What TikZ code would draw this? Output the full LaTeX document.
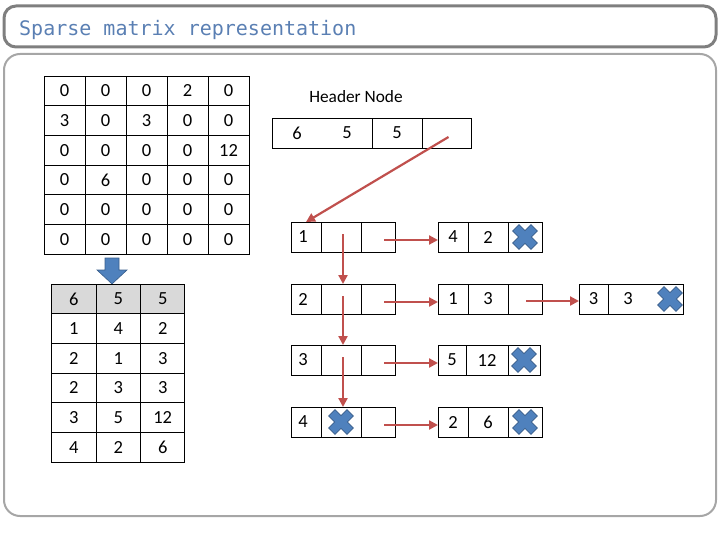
\documentclass[tikz,border=0pt]{standalone}
\usepackage{fontspec}
\setmainfont{Carlito}
\newfontfamily\titlefont{DejaVu Sans Mono}
\usetikzlibrary{arrows.meta}
\definecolor{titleblue}{HTML}{5A7FB3}
\definecolor{redarr}{HTML}{C0504D}
\definecolor{xblue}{HTML}{4F81BD}
\definecolor{xborder}{HTML}{385D8A}
\definecolor{hdrgray}{HTML}{D9D9D9}
\definecolor{framedark}{HTML}{7F7F7F}
\definecolor{framelight}{HTML}{A6A6A6}
\begin{document}
\begin{tikzpicture}[x=1pt,y=-1pt,
  cell/.style={draw=black,line width=0.9pt,minimum height=29.67pt,inner sep=0pt,outer sep=0pt,font=\fontsize{18.5}{20}\selectfont,anchor=center},
  lcell/.style={cell,minimum height=30pt},
  numtxt/.style={inner sep=0pt,font=\fontsize{18.5}{20}\selectfont,anchor=center},
  redarrow/.style={draw=redarr,line width=2.2pt,-{Triangle[length=9pt,width=9pt]}},
  xcross/.pic={\filldraw[fill=xblue,draw=xborder,line width=0.6pt,rotate=45]
     (4.5,4.5) -- (13,4.5) -- (13,-4.5) -- (4.5,-4.5) -- (4.5,-13) -- (-4.5,-13) -- (-4.5,-4.5)
     -- (-13,-4.5) -- (-13,4.5) -- (-4.5,4.5) -- (-4.5,13) -- (4.5,13) -- cycle;}
]
\useasboundingbox (0,0) rectangle (720,540);
% frames
\draw[rounded corners=12pt,line width=3pt,draw=framedark] (4,6) rectangle (716,47);
\draw[rounded corners=16pt,line width=2pt,draw=framelight] (4,54) rectangle (716,516);
\node[anchor=west,inner sep=0pt,text=titleblue,font=\titlefont\fontsize{20}{24}\selectfont] (title) at (19,30) {Sparse matrix representation};

% dense matrix
\foreach \row [count=\r] in {{0,0,0,2,0},{3,0,3,0,0},{0,0,0,0,12},{0,6,0,0,0},{0,0,0,0,0},{0,0,0,0,0}} {
  \foreach \v [count=\c] in \row {
    \node[cell,minimum width=41pt] (m-\r-\c) at ({44+41*(\c-0.5)},{76+29.67*(\r-0.5)}) {\v};
  }
}

% blue block arrow
\filldraw[fill=xblue,draw=xborder,line width=0.6pt] (105,258) -- (119,258) -- (119,270) -- (127,270) -- (112,284) -- (97,270) -- (105,270) -- cycle;

% triplet table
\foreach \row [count=\r] in {{6,5,5},{1,4,2},{2,1,3},{2,3,3},{3,5,12},{4,2,6}} {
  \foreach \v [count=\c] in \row {
    \ifnum\r=1
      \node[cell,fill=hdrgray,minimum width=44.4pt] (t-\r-\c) at ({51.7+44.4*(\c-0.5)},{284+29.67*(\r-0.5)}) {\v};
    \else
      \node[cell,minimum width=44.4pt] (t-\r-\c) at ({51.7+44.4*(\c-0.5)},{284+29.67*(\r-0.5)}) {\v};
    \fi
  }
}

% header node
\node[inner sep=0pt,font=\fontsize{17.3}{20}\selectfont] (hlabel) at (356,97) {Header Node};
\node[lcell,minimum width=100pt] (h1) at (322,133) {};
\node[lcell,minimum width=50pt] (h2) at (397,133) {5};
\node[lcell,minimum width=49pt] (h3) at (446.5,133) {};
\node[numtxt] (h1a) at (297,133) {6};
\node[numtxt] (h1b) at (347,133) {5};

% row list (left column)
\foreach \n/\y in {1/237,2/299,3/360,4/422} {
  \node[lcell,minimum width=30pt] (r\n a) at (306,\y) {};
  \node[numtxt] (r\n t) at (303,\y) {\n};
  \node[lcell,minimum width=40pt] (r\n b) at (341,\y) {};
  \node[lcell,minimum width=34pt] (r\n c) at (378,\y) {};
}
\pic (xr4) at (r4b.center) {xcross};

% element nodes
\node[lcell,minimum width=30pt] (a1) at (453,237) {4};
\node[lcell,minimum width=40pt] (a2) at (488,237) {2};
\node[lcell,minimum width=34pt] (a3) at (525,237) {};
\pic (xa) at (a3.center) {xcross};

\node[lcell,minimum width=30pt] (b1) at (453,299) {1};
\node[lcell,minimum width=40pt] (b2) at (488,299) {3};
\node[lcell,minimum width=34pt] (b3) at (525,299) {};

\node[lcell,minimum width=29pt] (c1) at (593.5,299) {3};
\node[lcell,minimum width=75pt] (c2) at (645.5,299) {};
\node[numtxt] (c2t) at (628,299) {3};
\pic (xc) at (670,299) {xcross};

\node[lcell,minimum width=28pt] (d1) at (452,360) {5};
\node[lcell,minimum width=42pt] (d2) at (487,360) {12};
\node[lcell,minimum width=32pt] (d3) at (524,360) {};
\pic (xd) at (d3.center) {xcross};

\node[lcell,minimum width=30pt] (e1) at (453,422) {2};
\node[lcell,minimum width=40pt] (e2) at (488,422) {6};
\node[lcell,minimum width=34pt] (e3) at (525,422) {};
\pic (xe) at (e3.center) {xcross};

% arrows
\draw[redarrow] ([xshift=2pt,yshift=-4pt]h3.center) -- (r1a.north);
\draw[redarrow] ([xshift=2pt,yshift=3pt]r1b.center) -- ([xshift=2pt]r2b.north);
\draw[redarrow] ([xshift=2pt,yshift=3pt]r2b.center) -- ([xshift=2pt]r3b.north);
\draw[redarrow] ([xshift=2pt,yshift=3pt]r3b.center) -- ([xshift=2pt]r4b.north);
\draw[redarrow] ([xshift=6pt,yshift=-3pt]r1c.center) -- ([yshift=-3pt]a1.west);
\draw[redarrow] ([xshift=6pt,yshift=-3pt]r2c.center) -- ([yshift=-3pt]b1.west);
\draw[redarrow] ([xshift=1pt,yshift=-2pt]b3.center) -- ([yshift=-2pt]c1.west);
\draw[redarrow] ([xshift=6pt,yshift=-3pt]r3c.center) -- ([yshift=-3pt]d1.west);
\draw[redarrow] ([xshift=6pt,yshift=-3pt]r4c.center) -- ([yshift=-3pt]e1.west);
\end{tikzpicture}
\end{document}
